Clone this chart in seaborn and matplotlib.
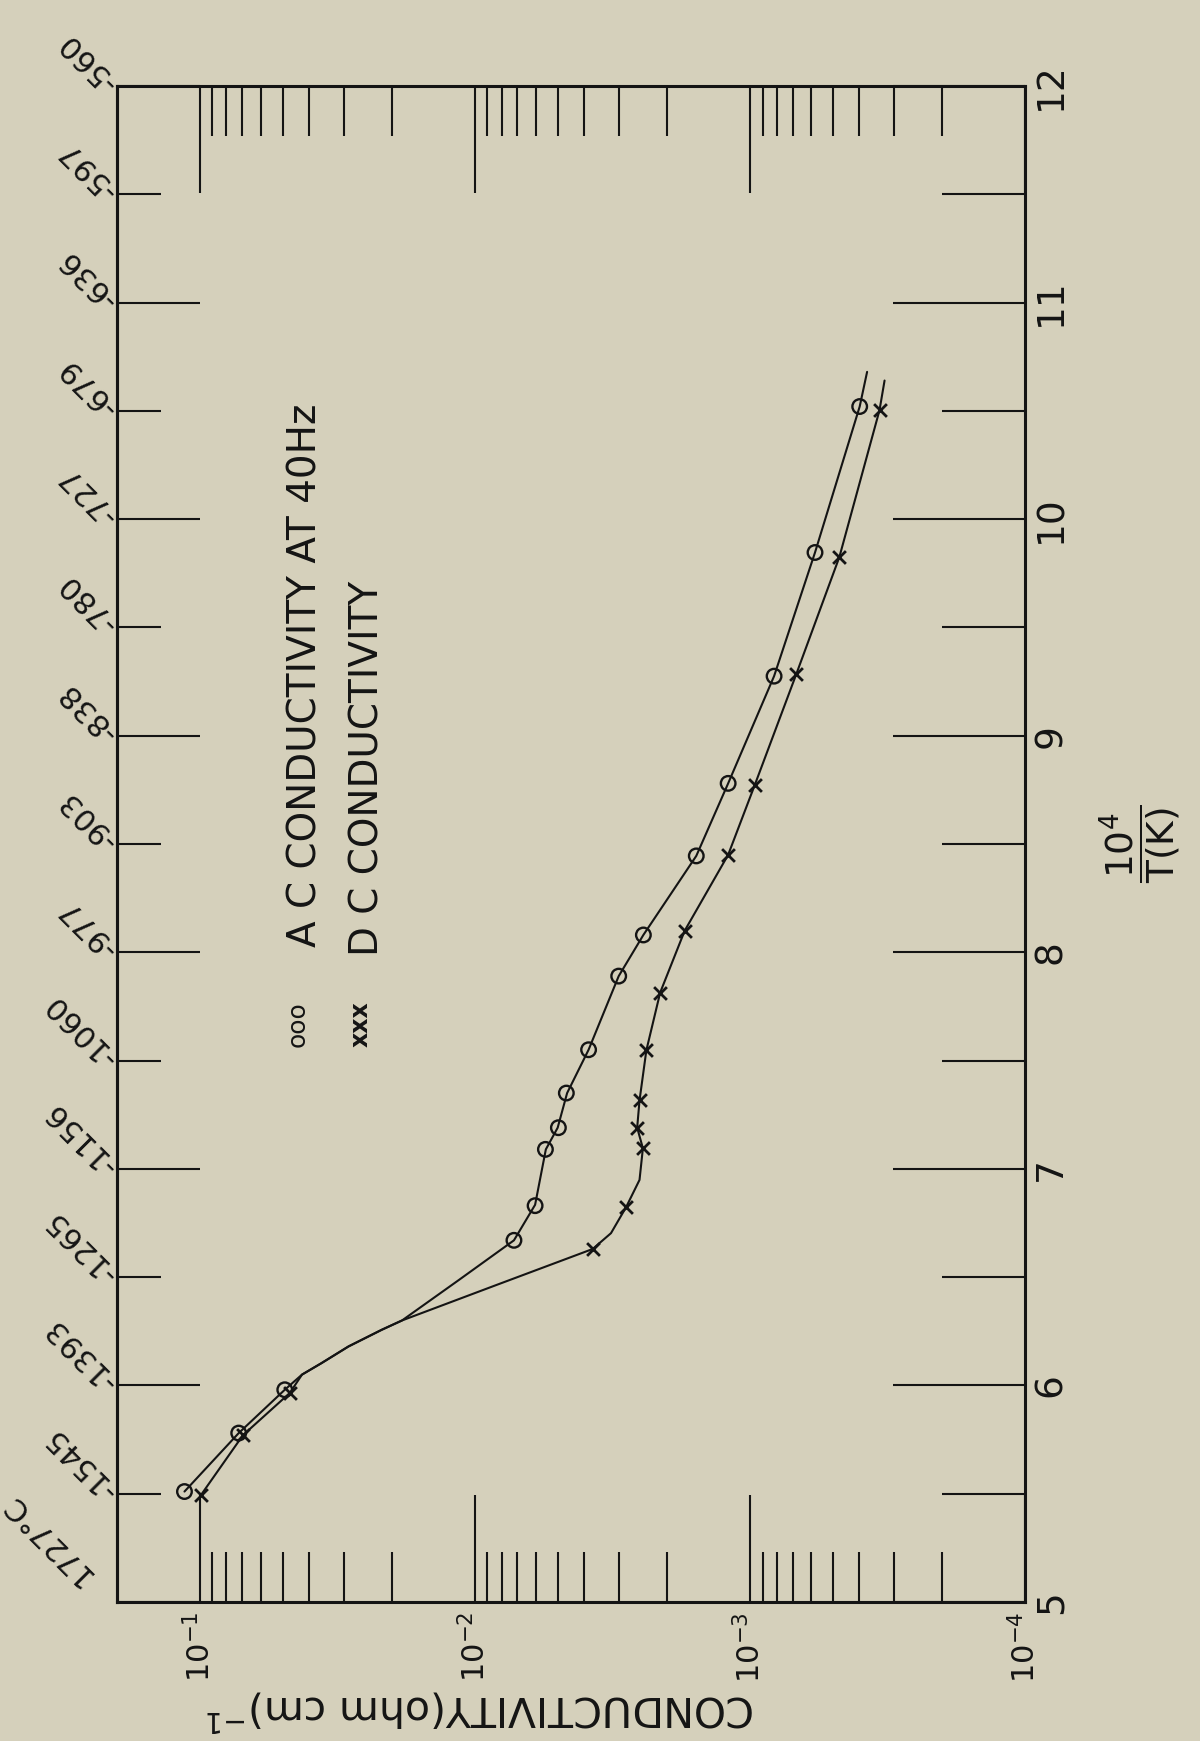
import matplotlib
matplotlib.use("Agg")
import matplotlib.pyplot as plt
import pandas as pd
import seaborn as sns

sns.set_theme(style="white")
plt.rcParams["font.family"] = ["DejaVu Sans"]
plt.rcParams["mathtext.fontset"] = "dejavusans"

PAPER = "#d5d0bb"
INK = "#141414"

# Measured points: 10^4/T (K^-1) and conductivity (ohm cm)^-1
ac_inv_t = [5.51, 5.78, 5.98, 6.67, 6.83, 7.09, 7.19, 7.35, 7.55, 7.89, 8.08,
            8.445, 8.78, 9.275, 9.846, 10.52]
ac_sigma = [0.1137, 0.0722, 0.0491, 0.00721, 0.00604, 0.00554, 0.00497, 0.00465,
            0.00386, 0.00300, 0.00244, 0.001567, 0.00120, 0.000817, 0.000580, 0.000399]

dc_inv_t = [5.495, 5.77, 5.965, 6.63, 6.823, 7.095, 7.19, 7.316, 7.547, 7.814,
            8.10, 8.45, 8.773, 9.283, 9.825, 10.503]
dc_sigma = [0.0989, 0.0697, 0.0471, 0.00373, 0.00282, 0.00245, 0.00257, 0.00252,
            0.00238, 0.00212, 0.001726, 0.00120, 0.00096, 0.000679, 0.000473, 0.000338]

# Hand-drawn trend curves through each set
ac_curve_t = [5.51, 5.78, 5.98, 6.05, 6.103, 6.18, 6.257, 6.30, 6.487, 6.67, 6.834,
              7.09, 7.19, 7.35, 7.55, 7.89, 8.08, 8.445, 8.78, 9.275, 9.846, 10.52, 10.68]
ac_curve_s = [0.1137, 0.0722, 0.0491, 0.0425, 0.0361, 0.0288, 0.0218, 0.0184, 0.01143,
              0.00721, 0.00604, 0.00552, 0.00500, 0.00462, 0.00386, 0.00300, 0.00244,
              0.001567, 0.00120, 0.000817, 0.000580, 0.000399, 0.000375]

dc_curve_t = [5.495, 5.77, 5.965, 6.05, 6.103, 6.18, 6.257, 6.30, 6.465, 6.63, 6.703,
              6.823, 6.949, 7.095, 7.19, 7.316, 7.547, 7.814, 8.10, 8.45, 8.773, 9.283,
              9.825, 10.503, 10.64]
dc_curve_s = [0.0989, 0.0697, 0.0471, 0.0425, 0.0361, 0.0288, 0.0218, 0.0184, 0.0083,
              0.00373, 0.00320, 0.00282, 0.00252, 0.00245, 0.00257, 0.00252, 0.00238,
              0.00212, 0.001726, 0.00120, 0.00096, 0.000679, 0.000473, 0.000338, 0.000324]

# Axis ticks and labels
inv_t_major = [5, 6, 7, 8, 9, 10, 11, 12]
inv_t_minor = [5.5, 6.5, 7.5, 8.5, 9.5, 10.5, 11.5]
inv_t_labels = ["5", "6", "7", "8", "9", "10", "11", "12"]
temp_major_labels = ["   1727°C", "-1393", "-1156", "-977", "-838", "-727", "-636", "-560"]
temp_minor_labels = ["-1545", "-1265", "-1060", "-903", "-780", "-679", "-597"]
sigma_major = [1e-1, 1e-2, 1e-3, 1e-4]
sigma_labels = ["$10^{-1}$", "$10^{-2}$", "$10^{-3}$", "$10^{-4}$"]
sigma_minor = [m * 10.0 ** e for e in (-4, -3, -2) for m in range(2, 10)]

fig = plt.figure(figsize=(12, 17.41), dpi=100, facecolor=PAPER)
ax = fig.add_axes([117 / 1200, 139 / 1741, 908 / 1200, 1516 / 1741])
ax.set_facecolor(PAPER)
ax.set_xscale("log")

ac_line = pd.DataFrame({"sigma": ac_curve_s, "inv_t": ac_curve_t})
dc_line = pd.DataFrame({"sigma": dc_curve_s, "inv_t": dc_curve_t})
sns.lineplot(data=ac_line, x="sigma", y="inv_t", sort=False, estimator=None,
             color=INK, linewidth=1.5, ax=ax)
sns.lineplot(data=dc_line, x="sigma", y="inv_t", sort=False, estimator=None,
             color=INK, linewidth=1.5, ax=ax)

sns.scatterplot(x=ac_sigma, y=ac_inv_t, marker="o", s=110, facecolors="none",
                edgecolors=INK, linewidth=1.7, ax=ax, zorder=4)
sns.scatterplot(x=dc_sigma, y=dc_inv_t, marker="x", s=85, color=INK,
                linewidth=2.0, ax=ax, zorder=4)

ax.set_xlim(0.2, 1e-4)
ax.set_ylim(5, 12)
ax.set_xlabel("")
ax.set_ylabel("")

for sp in ax.spines.values():
    sp.set_color(INK)
    sp.set_linewidth(2.2)

# conductivity axis (bottom labels, ticks on both edges)
ax.set_xticks(sigma_major, sigma_labels)
ax.set_xticks(sigma_minor, minor=True)
ax.xaxis.set_minor_formatter(plt.NullFormatter())
ax.tick_params(axis="x", which="major", direction="in", length=77, width=1.5,
               bottom=True, top=True, color=INK, labelsize=22, labelcolor=INK, pad=7)
ax.tick_params(axis="x", which="minor", direction="in", length=36, width=1.5,
               bottom=True, top=True, color=INK)
for lab in ax.get_xticklabels():
    lab.set_rotation(90)
    lab.set_ha("center")
    lab.set_va("top")

# inverse temperature axis, labelled on the right edge
ax.set_yticks(inv_t_major, inv_t_labels)
ax.set_yticks(inv_t_minor, minor=True)
ax.tick_params(axis="y", which="major", direction="in", length=95, width=1.5,
               left=False, right=True, labelleft=False, labelright=True,
               color=INK, labelsize=27, labelcolor=INK, pad=6)
ax.tick_params(axis="y", which="minor", direction="in", length=60, width=1.5,
               left=False, right=True, color=INK)
for lab in ax.get_yticklabels():
    lab.set_rotation(90)
    lab.set_ha("left")
    lab.set_va("center")

# Celsius scale along the left edge
sec = ax.secondary_yaxis("left")
sec.set_yticks(inv_t_major, temp_major_labels)
sec.set_yticks(inv_t_minor, temp_minor_labels, minor=True)
sec.spines["left"].set_color(INK)
sec.spines["left"].set_linewidth(2.2)
sec.tick_params(which="major", direction="in", length=60, width=1.5, color=INK,
                labelsize=22, labelcolor=INK, pad=3)
sec.tick_params(which="minor", direction="in", length=32, width=1.5, color=INK,
                labelsize=22, labelcolor=INK, pad=3)
for lab in sec.get_yticklabels(which="both"):
    lab.set_rotation(135)
    lab.set_rotation_mode("anchor")
    lab.set_ha("left")
    lab.set_va("center")

ax.set_xlabel("CONDUCTIVITY(ohm cm)$^{-1}$", rotation=180, fontsize=29.5, color=INK,
              ha="center", va="center")
ax.xaxis.set_label_coords(0.40, -0.0706)

ax.text(1.127, 0.50, r"$\dfrac{\mathregular{10^4}}{\mathregular{T(K)}}$",
        transform=ax.transAxes, rotation=90, ha="center", va="center",
        fontsize=27, color=INK)

# key
ax.text(0.208, 0.432, "A C CONDUCTIVITY AT 40Hz", transform=ax.transAxes,
        rotation=90, ha="center", va="bottom", fontsize=28, color=INK)
ax.text(0.2764, 0.426, "D C CONDUCTIVITY", transform=ax.transAxes,
        rotation=90, ha="center", va="bottom", fontsize=28, color=INK)
ax.text(0.199, 0.381, "ooo", transform=ax.transAxes, rotation=90,
        ha="center", va="center", fontsize=18, color=INK)
ax.text(0.268, 0.381, "xxx", transform=ax.transAxes, rotation=90,
        ha="center", va="center", fontsize=17, fontweight="bold", color=INK)

fig.savefig("out.png", dpi=100, facecolor=PAPER)
